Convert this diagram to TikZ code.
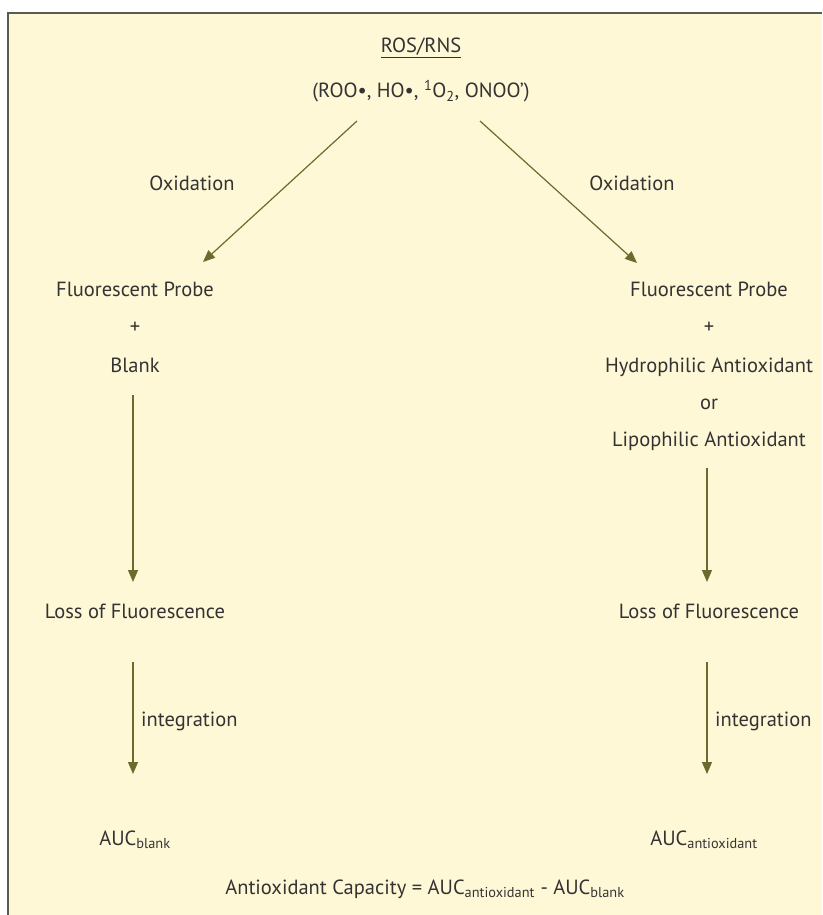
\documentclass[tikz,border=0pt]{standalone}
\usepackage{fontspec}
\setmainfont{PT Sans}
\usetikzlibrary{arrows.meta}
\definecolor{bg}{HTML}{FFF8D6}
\definecolor{arr}{HTML}{6B6B2E}
\definecolor{txt}{HTML}{333333}
\definecolor{framec}{HTML}{5A5A55}
\begin{document}
\begin{tikzpicture}[x=1pt,y=-1pt,
 lbl/.style={font=\fontsize{20.5}{24}\selectfont, text=txt, inner sep=0pt, anchor=base},
 flow/.style={draw=arr, line width=1.2pt, -{Triangle[length=12pt,width=10pt]}}]
\useasboundingbox (0,0) rectangle (822,915);
\fill[bg] (8,13) rectangle (822,915);
\draw[framec, line width=1.5pt] (8,915) -- (8,13) -- (822,13);

\node[lbl] (ros) at (421,53) {\underline{ROS/RNS}};
\node[lbl] (spec) at (421,98) {(ROO•, HO•, \textsuperscript{1}O\textsubscript{2}, ONOO')};

\node[lbl] (oxl) at (192,190) {Oxidation};
\node[lbl] (oxr) at (632,190) {Oxidation};

\node[lbl] (fpl) at (135,296) {Fluorescent Probe};
\node[lbl] (plusl) at (135,333) {+};
\node[lbl] (blank) at (135,372) {Blank};
\node[lbl] (lossl) at (135,618) {Loss of Fluorescence};
\node[lbl,anchor=base west] (intl) at (141,726) {integration};
\node[lbl] (aucl) at (135,845) {AUC\textsubscript{blank}};

\node[lbl] (fpr) at (709,296) {Fluorescent Probe};
\node[lbl] (plusr) at (709,333) {+};
\node[lbl] (hyd) at (709,372) {Hydrophilic Antioxidant};
\node[lbl] (or) at (709,409) {or};
\node[lbl] (lip) at (709,446) {Lipophilic Antioxidant};
\node[lbl] (lossr) at (709,618) {Loss of Fluorescence};
\node[lbl,anchor=base west] (intr) at (715,726) {integration};
\node[lbl] (aucr) at (704,845) {AUC\textsubscript{antioxidant}};

\node[lbl] (cap) at (425,894) {Antioxidant Capacity = AUC\textsubscript{antioxidant} - AUC\textsubscript{blank}};

\coordinate (a1s) at (357,121); \coordinate (a1e) at (203,262);
\coordinate (a2s) at (480,121); \coordinate (a2e) at (637,263);
\coordinate (a3s) at (133,395); \coordinate (a3e) at (133,582);
\coordinate (a4s) at (133,662); \coordinate (a4e) at (133,774);
\coordinate (a5s) at (707,468); \coordinate (a5e) at (707,582);
\coordinate (a6s) at (707,662); \coordinate (a6e) at (707,774);
\draw[flow] (a1s) -- (a1e);
\draw[flow] (a2s) -- (a2e);
\draw[flow] (a3s) -- (a3e);
\draw[flow] (a4s) -- (a4e);
\draw[flow] (a5s) -- (a5e);
\draw[flow] (a6s) -- (a6e);
\end{tikzpicture}
\end{document}
